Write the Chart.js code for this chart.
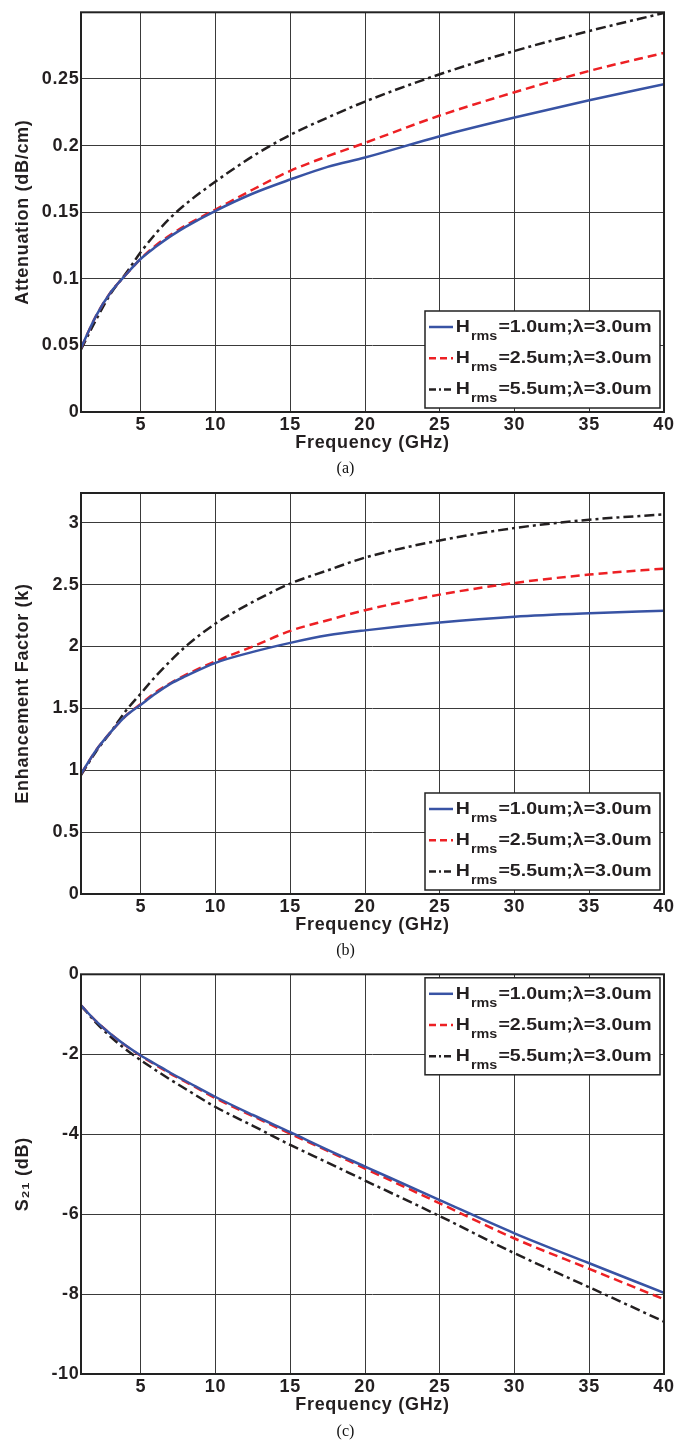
<!DOCTYPE html>
<html><head><meta charset="utf-8">
<script src="https://cdn.jsdelivr.net/npm/chart.js@4.4.1/dist/chart.umd.min.js"></script>
<style>
html,body{margin:0;padding:0;background:#fff;}
body{width:691px;height:1445px;position:relative;overflow:hidden;}
.panel{position:absolute;left:0;width:691px;}
.panel canvas{display:block;}
.cap{position:absolute;left:0;width:691px;text-align:center;font-family:"Liberation Serif","Times New Roman",serif;font-size:16px;color:#111;line-height:20px;}
</style></head><body>
<div class="panel" style="top:0px;height:460px"><canvas id="ca" width="691" height="460"></canvas></div>
<div class="cap" style="top:458px">(a)</div>
<div class="panel" style="top:480px;height:462px"><canvas id="cb" width="691" height="462"></canvas></div>
<div class="cap" style="top:940px">(b)</div>
<div class="panel" style="top:962px;height:460px"><canvas id="cc" width="691" height="460"></canvas></div>
<div class="cap" style="top:1421px">(c)</div>
<script>
// ---- data ----
const freqGHz = [1,2,3,4,5,6,7,8,10,12.5,15,17.5,20,25,30,35,40];
const seriesLabels = ['Hrms=1.0um;λ=3.0um','Hrms=2.5um;λ=3.0um','Hrms=5.5um;λ=3.0um'];

const attenH10 = [0.048,0.072,0.090,0.103,0.115,0.124,0.132,0.139,0.151,0.164,0.1745,0.184,0.191,0.207,0.221,0.234,0.246];
const attenH25 = [0.048,0.072,0.090,0.103,0.115,0.125,0.133,0.140,0.152,0.167,0.181,0.192,0.202,0.2225,0.240,0.256,0.2695];
const attenH55 = [0.047,0.069,0.089,0.104,0.120,0.134,0.146,0.156,0.173,0.192,0.208,0.221,0.233,0.2535,0.271,0.286,0.2995];

const enhH10 = [0.97,1.16,1.31,1.44,1.53,1.62,1.70,1.76,1.868,1.956,2.029,2.09,2.13,2.193,2.24,2.268,2.288];
const enhH25 = [0.97,1.16,1.31,1.44,1.535,1.63,1.705,1.77,1.881,2.0,2.126,2.212,2.293,2.419,2.513,2.581,2.629];
const enhH55 = [0.96,1.15,1.31,1.48,1.62,1.76,1.885,2.0,2.185,2.36,2.508,2.615,2.718,2.857,2.957,3.024,3.067];

const s21H10 = [-0.78,-1.17,-1.50,-1.78,-2.03,-2.25,-2.47,-2.67,-3.07,-3.52,-3.95,-4.39,-4.81,-5.65,-6.48,-7.23,-7.97];
const s21H25 = [-0.78,-1.17,-1.50,-1.79,-2.04,-2.27,-2.49,-2.69,-3.10,-3.55,-3.99,-4.42,-4.86,-5.73,-6.61,-7.37,-8.13];
const s21H55 = [-0.78,-1.21,-1.57,-1.88,-2.15,-2.40,-2.64,-2.87,-3.32,-3.79,-4.27,-4.71,-5.16,-6.05,-6.98,-7.83,-8.69];

const xTicks = [5,10,15,20,25,30,35,40];
const attenTicks = [0,0.05,0.1,0.15,0.2,0.25];
const enhTicks = [0,0.5,1,1.5,2,2.5,3];
const s21Ticks = [-10,-8,-6,-4,-2,0];

// ---- styling ----
const FONT = "'Liberation Sans', Arial, Helvetica, sans-serif";
const TXT = '#231f20';
const seriesStyles = [
  {color:'#3853a4', dash:[], legendDash:[]},
  {color:'#ed2024', dash:[9,5], legendDash:[7,4]},
  {color:'#231f20', dash:[10,4,3,4], legendDash:[7,3,2,3]}
];

const framePlugin = {
  id:'frame',
  beforeDraw(chart){ chart.ctx.letterSpacing = '0.7px'; },
  afterDatasetsDraw(chart){
    const {ctx, chartArea:a} = chart;
    ctx.save();
    ctx.strokeStyle = '#222'; ctx.lineWidth = 2;
    ctx.strokeRect(a.left, a.top, a.right - a.left, a.bottom - a.top);
    ctx.restore();
  }
};

const legendPlugin = {
  id:'matLegend',
  afterDraw(chart, args, opts){
    const {ctx, chartArea:a} = chart;
    const w = 235, h = 97;
    const x = a.right - 4 - w;
    const y = opts.pos === 'top' ? a.top + 3.5 : a.bottom - 4 - h;
    ctx.save();
    ctx.letterSpacing = '0px';
    ctx.fillStyle = '#fff'; ctx.fillRect(x, y, w, h);
    ctx.strokeStyle = '#222'; ctx.lineWidth = 1.5; ctx.strokeRect(x, y, w, h);
    chart.data.datasets.forEach((ds, i) => {
      const rowBase = y + 21 + i * 31.2;
      const lineY = rowBase - 5;
      ctx.strokeStyle = ds.borderColor; ctx.lineWidth = 2.5;
      ctx.setLineDash(seriesStyles[i].legendDash);
      ctx.beginPath(); ctx.moveTo(x + 4, lineY); ctx.lineTo(x + 28, lineY); ctx.stroke();
      ctx.setLineDash([]);
      const lbl = ds.label;
      const p1 = lbl.substring(0,1), p2 = lbl.substring(1,4), p3 = lbl.substring(4);
      const big = 'bold 17px ' + FONT, small = 'bold 12.5px ' + FONT;
      ctx.font = big; const w1 = ctx.measureText(p1).width; const w3 = ctx.measureText(p3).width;
      ctx.font = small; const w2 = ctx.measureText(p2).width;
      const sx = 197 / (w1 + w2 + w3 + 3);
      ctx.save();
      ctx.translate(x + 30.7, rowBase);
      ctx.scale(sx, 1);
      ctx.fillStyle = TXT; ctx.textBaseline = 'alphabetic'; ctx.textAlign = 'left';
      ctx.font = big; ctx.fillText(p1, 0, 0);
      ctx.font = small; ctx.fillText(p2, w1 + 1, 7.8);
      ctx.font = big; ctx.fillText(p3, w1 + w2 + 2, 0);
      ctx.restore();
    });
    ctx.restore();
  }
};

function fmt(v){ return String(Number(v.toFixed(3))); }

function makeChart(id, padTop, yMin, yMax, yTicks, yTitle, series, legendPos){
  const datasets = series.map((vals, i) => ({
    label: seriesLabels[i],
    data: freqGHz.map((f, k) => ({x: f, y: vals[k]})),
    borderColor: seriesStyles[i].color,
    borderDash: seriesStyles[i].dash,
    borderWidth: 2.5,
    pointRadius: 0,
    fill: false,
    cubicInterpolationMode: 'monotone'
  }));
  const tickFont = {family: FONT, size: 18, weight: 'bold'};
  return new Chart(document.getElementById(id), {
    type: 'line',
    data: {datasets},
    plugins: [framePlugin, legendPlugin],
    options: {
      responsive: false, animation: false,
      layout: {padding: {top: padTop, right: 27, left: 0, bottom: 0}},
      plugins: {legend: {display: false}, tooltip: {enabled: false}, matLegend: {pos: legendPos}},
      scales: {
        x: {
          type: 'linear', min: 1, max: 40,
          afterBuildTicks: s => { s.ticks = xTicks.map(v => ({value: v})); },
          afterFit: s => { s.height = 48; },
          grid: {color: '#3a3a3a', lineWidth: 1, drawTicks: false},
          border: {display: false},
          ticks: {padding: 2, color: TXT, font: tickFont, maxRotation: 0, autoSkip: false, callback: v => fmt(v)},
          title: {display: true, text: 'Frequency (GHz)', color: TXT, font: tickFont, padding: {top: 0, bottom: 6}}
        },
        y: {
          type: 'linear', min: yMin, max: yMax,
          afterBuildTicks: s => { s.ticks = yTicks.map(v => ({value: v})); },
          afterFit: s => { s.width = 81; },
          grid: {color: '#3a3a3a', lineWidth: 1, drawTicks: false},
          border: {display: false},
          ticks: {padding: 1.5, color: TXT, font: tickFont, autoSkip: false, callback: v => fmt(v)},
          title: {display: true, text: yTitle, color: TXT, font: tickFont, padding: {top: 12, bottom: 0}}
        }
      }
    }
  });
}

makeChart('ca', 10, 0, 0.3, attenTicks, 'Attenuation (dB/cm)', [attenH10, attenH25, attenH55], 'bottom');
makeChart('cb', 13, 0, 3.24, enhTicks, 'Enhancement Factor (k)', [enhH10, enhH25, enhH55], 'bottom');
makeChart('cc', 12, -10, 0, s21Ticks, 'S₂₁ (dB)', [s21H10, s21H25, s21H55], 'top');
</script>
</body></html>
